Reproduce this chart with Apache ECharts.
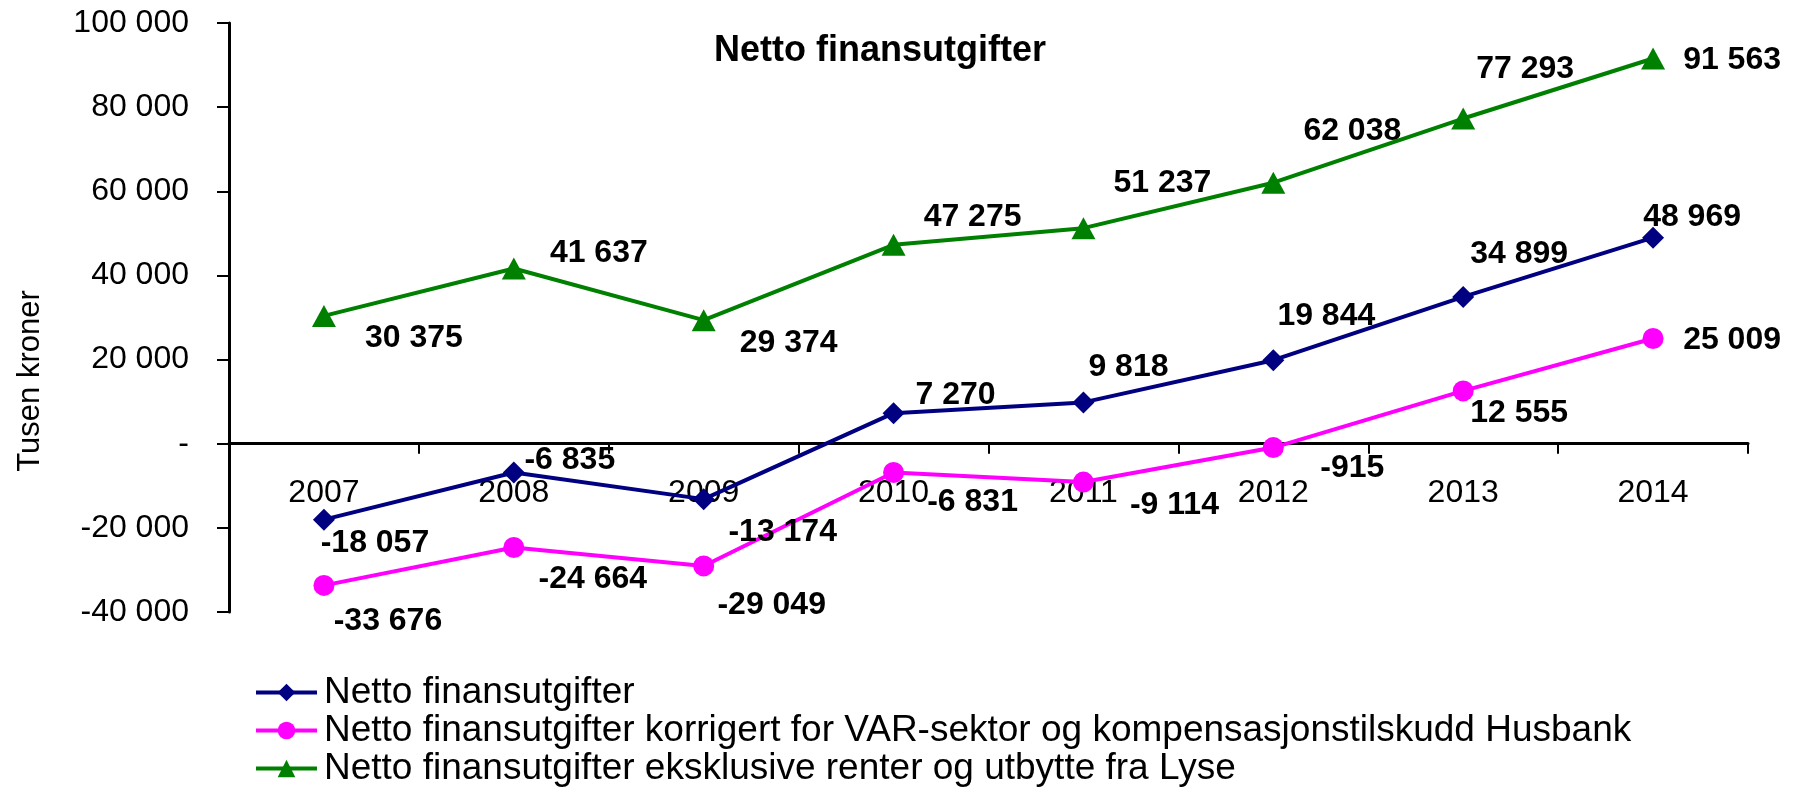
<!DOCTYPE html>
<html><head><meta charset="utf-8">
<script src="https://cdn.jsdelivr.net/npm/echarts@6/dist/echarts.min.js"></script>
<style>html,body{margin:0;padding:0;background:#fff}#c{width:1804px;height:794px}</style>
</head><body><div id="c"></div>
<script>
const categories = ['2007','2008','2009','2010','2011','2012','2013','2014'];
const seriesNames = [
  'Netto finansutgifter',
  'Netto finansutgifter korrigert for VAR-sektor og kompensasjonstilskudd Husbank',
  'Netto finansutgifter eksklusive renter og utbytte fra Lyse'
];
const nettoValues = [-18057, -6835, -13174, 7270, 9818, 19844, 34899, 48969];
const korrigertValues = [-33676, -24664, -29049, -6831, -9114, -915, 12555, 25009];
const eksklLyseValues = [30375, 41637, 29374, 47275, 51237, 62038, 77293, 91563];
const yTicks = [-40000, -20000, 0, 20000, 40000, 60000, 80000, 100000];

// label offsets (style only)
const nettoOffsets = [[51,23],[56,-12],[79,33],[62,-18],[45,-35],[53,-44],[56,-43],[39,-21]];
const korrOffsets = [[64,36],[79,32],[68,39],[79,30],[91,23],[79,21],[56,22],[79,2]];
const lyseOffsets = [[90,22],[85,-15],[85,23],[79,-28],[79,-45],[79,-52],[62,-49],[79,2]];

const GRID_TOP = 23, GRID_BOTTOM_PX = 612;

function fmt(v){
  if (v === 0) return '-';
  const s = Math.abs(v).toString().replace(/\B(?=(\d{3})+(?!\d))/g, ' ');
  return (v < 0 ? '-' : '') + s;
}
function mkData(vals, offs){
  return vals.map((v,i)=>({value:v, label:{offset:offs[i]}}));
}
const yMin = yTicks[0], yMax = yTicks[yTicks.length-1];
// move the category axis (line + labels) up to the y=0 position
const zeroY = GRID_TOP + (GRID_BOTTOM_PX - GRID_TOP) * (yMax - 0) / (yMax - yMin);
const xAxisOffset = -(GRID_BOTTOM_PX - zeroY);

const font = 'Arial, "Liberation Sans", sans-serif';
const labelBase = {show:true, position:'inside', color:'#000', fontWeight:'bold', fontSize:32, fontFamily:font,
  formatter:p=>fmt(p.value)};

const chart = echarts.init(document.getElementById('c'), null, {renderer:'canvas'});
chart.setOption({
  animation:false,
  backgroundColor:'#fff',
  title:{text:'Netto finansutgifter', left:875, top:28, textAlign:'center',
    textStyle:{fontFamily:font, fontWeight:'bold', fontSize:36, color:'#000'}},
  grid:{left:229, right:56, top:GRID_TOP, bottom:794-GRID_BOTTOM_PX, containLabel:false},
  legend:{orient:'vertical', left:254, top:674, height:120, padding:0, itemWidth:61, itemHeight:22, itemGap:1,
    lineStyle:{width:4},
    textStyle:{fontFamily:font, fontSize:37, color:'#000', lineHeight:36, padding:[0,0,0,2]},
    data:seriesNames},
  graphic:[{type:'text', x:30, y:381, rotation:Math.PI/2,
     style:{text:'Tusen kroner', font:'31px Arial, "Liberation Sans", sans-serif', fill:'#000',
       textAlign:'center', textVerticalAlign:'middle'}}],
  xAxis:{type:'category', data:categories, boundaryGap:true, position:'bottom', offset:xAxisOffset,
    axisLine:{onZero:false, lineStyle:{color:'#000', width:3}},
    axisTick:{show:true, length:10, lineStyle:{color:'#000', width:2}},
    axisLabel:{color:'#000', fontFamily:font, fontSize:32, margin:33},
    splitLine:{show:false}},
  yAxis:{type:'value', min:yMin, max:yMax, interval:20000,
    axisLine:{show:true, lineStyle:{color:'#000', width:3}},
    axisTick:{show:true, length:12, lineStyle:{color:'#000', width:2}},
    axisLabel:{color:'#000', fontFamily:font, fontSize:32, margin:40, formatter:fmt},
    splitLine:{show:false}},
  series:[
    {name:seriesNames[0], type:'line', data:mkData(nettoValues, nettoOffsets),
     symbol:'diamond', symbolSize:[22,22], color:'#000080',
     lineStyle:{width:4, color:'#000080'}, itemStyle:{color:'#000080'}, label:labelBase, z:3},
    {name:seriesNames[1], type:'line', data:mkData(korrigertValues, korrOffsets),
     symbol:'circle', symbolSize:21, color:'#FF00FF',
     lineStyle:{width:4, color:'#FF00FF'}, itemStyle:{color:'#FF00FF'}, label:labelBase, z:2},
    {name:seriesNames[2], type:'line', data:mkData(eksklLyseValues, lyseOffsets),
     symbol:'triangle', symbolSize:[24,22], color:'#008000',
     lineStyle:{width:4, color:'#008000'}, itemStyle:{color:'#008000'}, label:labelBase, z:4}
  ]
});
</script></body></html>
